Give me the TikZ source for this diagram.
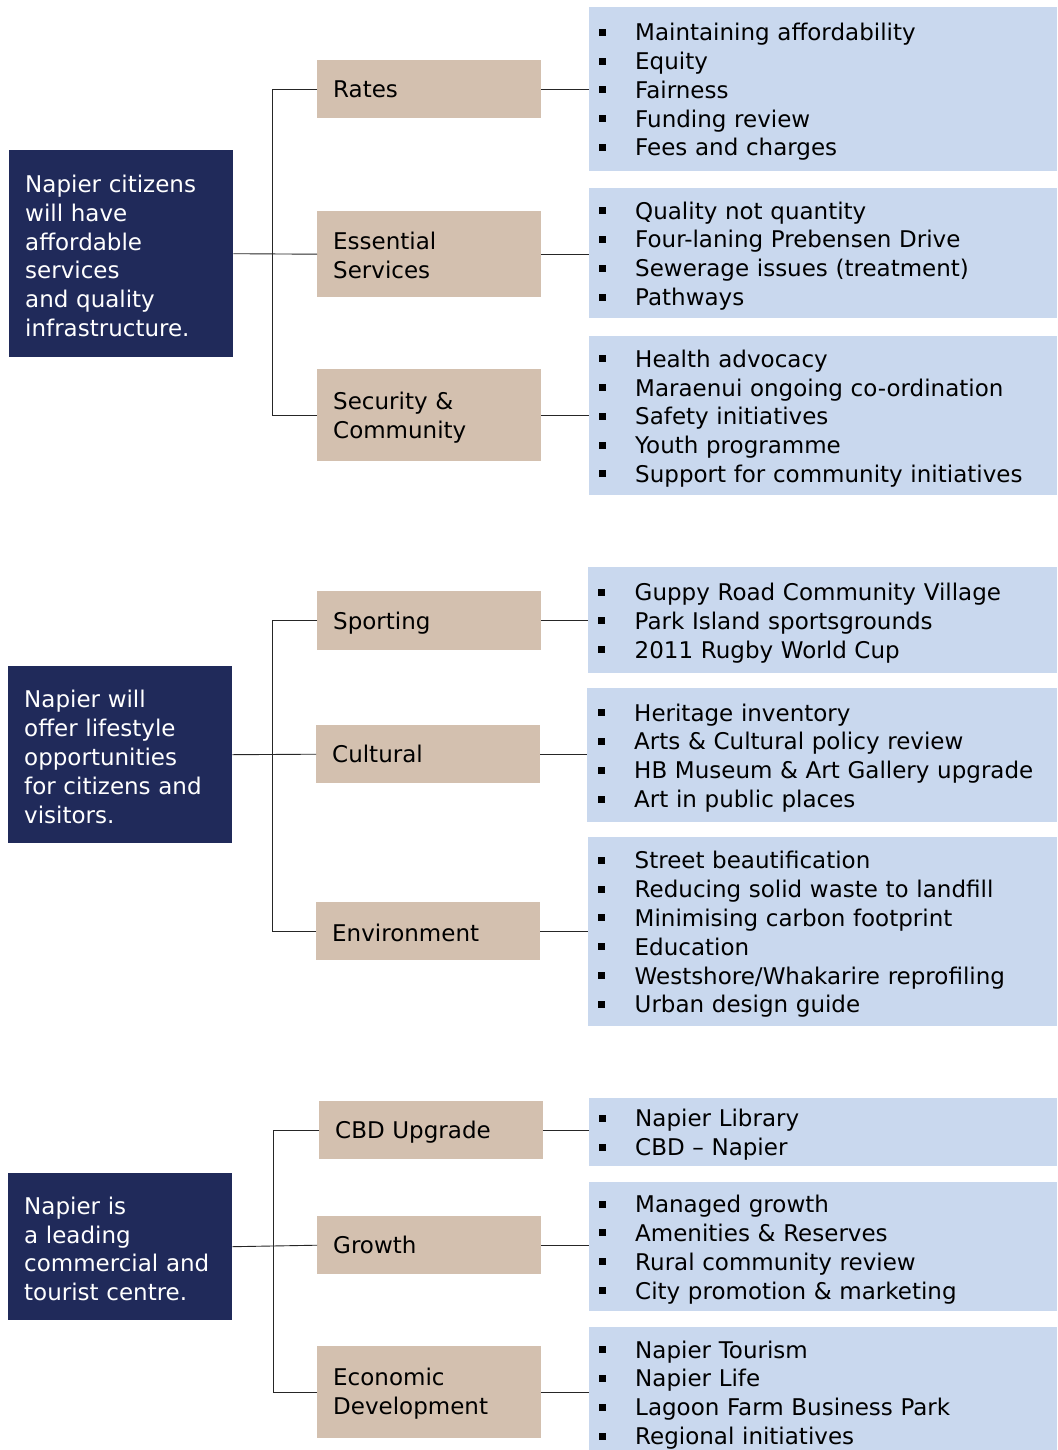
\documentclass[tikz,border=0pt]{standalone}
\usepackage{fontspec}
\setmainfont{DejaVu Sans}
\definecolor{navy}{RGB}{32,42,90}
\definecolor{tan}{RGB}{211,192,175}
\definecolor{lblue}{RGB}{201,216,238}
\newcommand\bul{\makebox[36.5pt][l]{\rule[5pt]{7pt}{7pt}}}
\newcommand\fl[1]{\rule{0pt}{#1pt}}
\tikzset{
  basebox/.style={anchor=north west, inner ysep=0pt, align=left, draw=none,
    font=\fontsize{23}{28.8}\selectfont},
  navybox/.style={basebox, fill=navy, text=white, inner xsep=16pt, text width=192pt, minimum width=224pt},
  tanbox/.style={basebox, fill=tan, inner xsep=16pt, text width=192pt, minimum width=224pt},
  bluebox/.style={basebox, fill=lblue, inner xsep=9.5pt, text width=449pt},
  conn/.style={draw=black!85, line width=0.9pt}
}
\begin{document}
\begin{tikzpicture}[x=1pt,y=-1pt]
\useasboundingbox (0,0) rectangle (1057,1450);
% ---- group 1
\node[navybox, minimum height=207pt] (g1) at (9,150) {\fl{22}Napier citizens\\will have\\affordable\\services\\and quality\\infrastructure.};
\node[tanbox, minimum height=58pt] (t1a) at (317,60) {Rates};
\node[tanbox, minimum height=86pt] (t1b) at (317,211) {\fl{20}Essential\\Services};
\node[tanbox, minimum height=92pt] (t1c) at (317,369) {\fl{22}Security \&\\Community};
\node[bluebox, minimum width=468pt, minimum height=164pt] (b1) at (589,7) {\fl{23}\bul Maintaining affordability\\\bul Equity\\\bul Fairness\\\bul Funding review\\\bul Fees and charges};
\node[bluebox, minimum width=468pt, minimum height=130pt] (b2) at (589,188) {\fl{23}\bul Quality not quantity\\\bul Four-laning Prebensen Drive\\\bul Sewerage issues (treatment)\\\bul Pathways};
\node[bluebox, minimum width=468pt, minimum height=159pt] (b3) at (589,336) {\fl{23}\bul Health advocacy\\\bul Maraenui ongoing co-ordination\\\bul Safety initiatives\\\bul Youth programme\\\bul Support for community initiatives};
\coordinate (j1) at (272,0);
\draw[conn] (g1.east) -- (t1b.west);
\draw[conn] (t1a.west) -- (t1a.west -| j1) -- (t1c.west -| j1) -- (t1c.west);
\draw[conn] (t1a.east) -- (t1a.east -| b1.west);
\draw[conn] (t1b.east) -- (t1b.east -| b2.west);
\draw[conn] (t1c.east) -- (t1c.east -| b3.west);
% ---- group 2
\node[navybox, minimum height=177pt] (g2) at (8,666) {\fl{22}Napier will\\offer lifestyle\\opportunities\\for citizens and\\visitors.};
\node[tanbox, minimum height=59pt] (t2a) at (317,591) {\fl{22}Sporting};
\node[tanbox, minimum height=58pt] (t2b) at (316,725) {Cultural};
\node[tanbox, minimum height=58pt] (t2c) at (316,902) {\fl{20}Environment};
\node[bluebox, minimum width=469pt, minimum height=106pt] (b4) at (588,567) {\fl{23}\bul Guppy Road Community Village\\\bul Park Island sportsgrounds\\\bul 2011 Rugby World Cup};
\node[bluebox, minimum width=470pt, minimum height=134pt] (b5) at (587,688) {\fl{23}\bul Heritage inventory\\\bul Arts \& Cultural policy review\\\bul HB Museum \& Art Gallery upgrade\\\bul Art in public places};
\node[bluebox, minimum width=469pt, minimum height=189pt] (b6) at (588,837) {\fl{23}\bul Street beautification\\\bul Reducing solid waste to landfill\\\bul Minimising carbon footprint\\\bul Education\\\bul Westshore/Whakarire reprofiling\\\bul Urban design guide};
\coordinate (j2) at (272,0);
\draw[conn] (g2.east) -- (t2b.west);
\draw[conn] (t2a.west) -- (t2a.west -| j2) -- (t2c.west -| j2) -- (t2c.west);
\draw[conn] (t2a.east) -- (t2a.east -| b4.west);
\draw[conn] (t2b.east) -- (t2b.east -| b5.west);
\draw[conn] (t2c.east) -- (t2c.east -| b6.west);
% ---- group 3
\node[navybox, minimum height=147pt] (g3) at (8,1173) {\fl{22}Napier is\\a leading\\commercial and\\tourist centre.};
\node[tanbox, minimum height=58pt] (t3a) at (319,1101) {\fl{22}CBD Upgrade};
\node[tanbox, minimum height=58pt] (t3b) at (317,1216) {Growth};
\node[tanbox, minimum height=92pt] (t3c) at (317,1346) {\fl{20}Economic\\Development};
\node[bluebox, minimum width=468pt, minimum height=68pt] (b7) at (589,1098) {\fl{23}\bul Napier Library\\\bul CBD -- Napier};
\node[bluebox, minimum width=468pt, minimum height=129pt] (b8) at (589,1182) {\fl{23}\bul Managed growth\\\bul Amenities \& Reserves\\\bul Rural community review\\\bul City promotion \& marketing};
\node[bluebox, minimum width=468pt, minimum height=123pt] (b9) at (589,1327) {\fl{30}\bul Napier Tourism\\\bul Napier Life\\\bul Lagoon Farm Business Park\\\bul Regional initiatives};
\coordinate (j3) at (273,0);
\draw[conn] (g3.east) -- (t3b.west);
\draw[conn] (t3a.west) -- (t3a.west -| j3) -- (t3c.west -| j3) -- (t3c.west);
\draw[conn] (t3a.east) -- (t3a.east -| b7.west);
\draw[conn] (t3b.east) -- (t3b.east -| b8.west);
\draw[conn] (t3c.east) -- (t3c.east -| b9.west);
\end{tikzpicture}
\end{document}
